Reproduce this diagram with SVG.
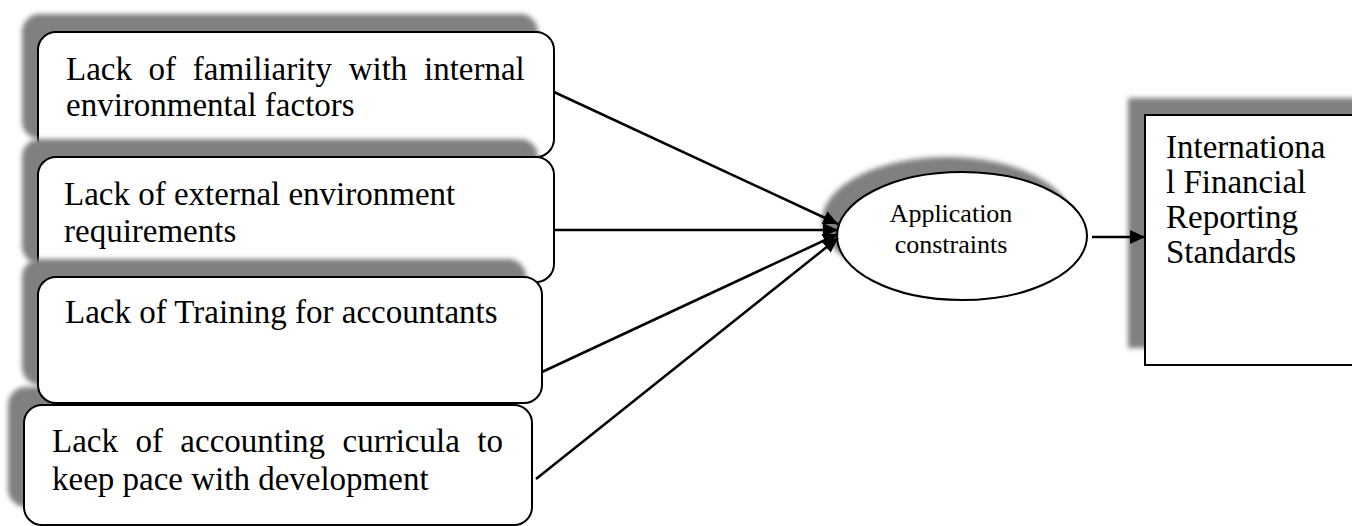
<svg xmlns="http://www.w3.org/2000/svg" width="1352" height="526" viewBox="0 0 1352 526">
<style>
.box{fill:#fff;stroke:#000;stroke-width:2}
.sh{fill:#808080;filter:url(#blur)}
.t{font-family:"Liberation Serif","Times New Roman",serif;font-size:33px;fill:#000}
.ts{font-family:"Liberation Serif","Times New Roman",serif;font-size:26px;fill:#000;text-anchor:middle}
.c{stroke:#000;stroke-width:2.5;fill:none;marker-end:url(#arr)}
</style>
<defs>
<filter id="blur" x="-10%" y="-10%" width="120%" height="120%"><feGaussianBlur stdDeviation="2.5"/></filter>
<marker id="arr" markerUnits="userSpaceOnUse" markerWidth="16" markerHeight="14" refX="15" refY="7" orient="auto"><path d="M0,0 L15,7 L0,14 Z" fill="#000"/></marker>
</defs>
<rect width="1352" height="526" fill="#fff"/>
<g id="box1">
<rect class="sh" x="22" y="14" width="516" height="125" rx="18"/>
<rect class="box" x="38" y="32" width="516" height="125" rx="18"/>
<text class="t" x="66" y="80" word-spacing="8.4">Lack of familiarity with internal</text>
<text class="t" x="66" y="116">environmental factors</text>
</g>
<g id="box2">
<rect class="sh" x="22" y="139" width="516" height="125" rx="18"/>
<rect class="box" x="38" y="157" width="516" height="125" rx="18"/>
<text class="t" x="64" y="205">Lack of external environment</text>
<text class="t" x="64" y="242">requirements</text>
</g>
<g id="box4">
<rect class="sh" x="8" y="387" width="508" height="120" rx="18"/>
<rect class="box" x="24" y="405" width="508" height="120" rx="18"/>
<text class="t" x="52" y="452" word-spacing="9.2">Lack of accounting curricula to</text>
<text class="t" x="52" y="490">keep pace with development</text>
</g>
<g id="box3">
<rect class="sh" x="22" y="259" width="504" height="126" rx="18"/>
<rect class="box" x="38" y="277" width="504" height="126" rx="18"/>
<text class="t" x="65" y="323">Lack of Training for accountants</text>
</g>
<g id="ellipse">
<ellipse class="sh" cx="947" cy="221" rx="125" ry="64"/>
<ellipse class="box" cx="962" cy="236" rx="125" ry="64"/>
<text class="ts" x="951" y="222">Application</text>
<text class="ts" x="951" y="253">constraints</text>
</g>
<g id="ifrs">
<rect class="sh" x="1128" y="98" width="240" height="250"/>
<rect class="box" x="1145" y="115" width="240" height="250"/>
<text class="t" x="1166" y="158">Internationa</text>
<text class="t" x="1166" y="193">l Financial</text>
<text class="t" x="1166" y="228">Reporting</text>
<text class="t" x="1166" y="263">Standards</text>
</g>
<g id="connectors">
<line class="c" x1="554" y1="92" x2="838" y2="224"/>
<line class="c" x1="554" y1="230" x2="838" y2="230"/>
<line class="c" x1="542" y1="372" x2="838" y2="234"/>
<line class="c" x1="536" y1="479" x2="838" y2="238"/>
<line class="c" x1="1092" y1="237" x2="1145" y2="237"/>
</g>
</svg>
